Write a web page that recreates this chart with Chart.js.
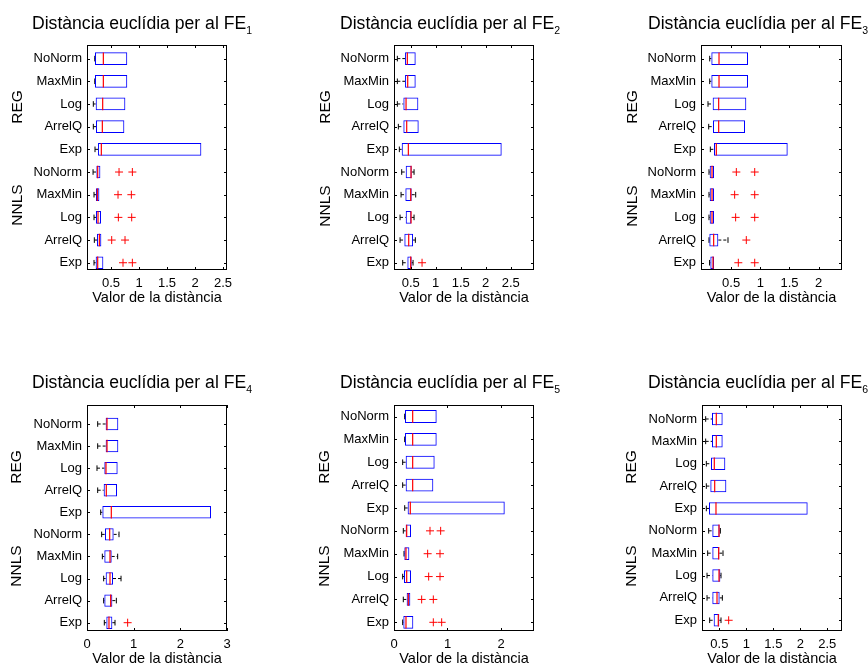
<!DOCTYPE html>
<html>
<head>
<meta charset="utf-8">
<script src="https://cdn.jsdelivr.net/npm/chart.js@4.4.0/dist/chart.umd.min.js"></script>
<style>
  body { margin: 0; width: 868px; height: 667px; overflow: hidden; position: relative; background: #fff;
         font-family: "Liberation Sans", Arial, sans-serif; color: #000; }
  canvas { position: absolute; }
  .ttl { position: absolute; font-size: 17.6px; line-height: 17px; white-space: nowrap; }
  .ttl span { font-size: 10.5px; line-height: 1; vertical-align: -5px; }
  .grp { position: absolute; font-size: 15.5px; line-height: 1; white-space: nowrap;
         transform: translate(-50%, -50%) rotate(-90deg); }
</style>
</head>
<body>
<script>
// categories (top to bottom) and the two groups
const NAMES = ["NoNorm", "MaxMin", "Log", "ArrelQ", "Exp", "NoNorm", "MaxMin", "Log", "ArrelQ", "Exp"];
const GROUPS = ["REG", "NNLS"];
const TITLES = ["1", "2", "3", "4", "5", "6"];
const X_LABEL = "Valor de la distància";

// x tick labels of each panel FE1..FE6
const X_TICKS = [
  [0.5, 1, 1.5, 2, 2.5],
  [0.5, 1, 1.5, 2, 2.5],
  [0.5, 1, 1.5, 2],
  [0, 1, 2, 3],
  [0, 1, 2],
  [0.5, 1, 1.5, 2, 2.5],
];

// box statistics, one row per panel (FE1..FE6), one value per category
const LO = [
  [0.21, 0.21, 0.184, 0.184, 0.214, 0.179, 0.196, 0.196, 0.202, 0.196],
  [0.233, 0.233, 0.233, 0.253, 0.273, 0.32, 0.307, 0.287, 0.287, 0.34],
  [0.132, 0.132, 0.103, 0.115, 0.143, 0.12, 0.12, 0.12, 0.12, 0.13],
  [0.229, 0.229, 0.214, 0.229, 0.293, 0.314, 0.329, 0.357, 0.357, 0.371],
  [0.2, 0.2, 0.162, 0.162, 0.2, 0.174, 0.187, 0.162, 0.174, 0.162],
  [0.247, 0.247, 0.259, 0.259, 0.259, 0.302, 0.284, 0.272, 0.272, 0.321],
];
const Q1 = [
  [0.214, 0.214, 0.226, 0.232, 0.268, 0.238, 0.232, 0.232, 0.25, 0.226],
  [0.387, 0.387, 0.353, 0.353, 0.32, 0.4, 0.393, 0.4, 0.373, 0.433],
  [0.16, 0.16, 0.183, 0.189, 0.206, 0.132, 0.132, 0.132, 0.126, 0.143],
  [0.4, 0.4, 0.371, 0.357, 0.329, 0.386, 0.371, 0.4, 0.371, 0.414],
  [0.206, 0.206, 0.218, 0.218, 0.255, 0.218, 0.193, 0.187, 0.237, 0.174],
  [0.364, 0.364, 0.346, 0.333, 0.309, 0.37, 0.37, 0.37, 0.37, 0.395],
];
const MED = [
  [0.363, 0.363, 0.351, 0.345, 0.327, 0.262, 0.256, 0.268, 0.292, 0.262],
  [0.433, 0.44, 0.407, 0.42, 0.453, 0.507, 0.5, 0.507, 0.46, 0.5],
  [0.292, 0.292, 0.286, 0.286, 0.246, 0.172, 0.172, 0.172, 0.2, 0.189],
  [0.429, 0.429, 0.407, 0.414, 0.521, 0.486, 0.493, 0.493, 0.507, 0.471],
  [0.349, 0.349, 0.349, 0.349, 0.305, 0.237, 0.224, 0.237, 0.268, 0.224],
  [0.444, 0.444, 0.407, 0.414, 0.438, 0.494, 0.488, 0.494, 0.457, 0.481],
];
const Q3 = [
  [0.79, 0.79, 0.756, 0.738, 2.113, 0.31, 0.292, 0.321, 0.327, 0.363],
  [0.6, 0.6, 0.653, 0.66, 2.32, 0.52, 0.52, 0.513, 0.547, 0.52],
  [0.789, 0.789, 0.76, 0.738, 1.47, 0.206, 0.206, 0.206, 0.28, 0.206],
  [0.671, 0.671, 0.657, 0.643, 2.657, 0.571, 0.529, 0.557, 0.543, 0.543],
  [0.798, 0.798, 0.76, 0.735, 2.07, 0.318, 0.287, 0.318, 0.305, 0.361],
  [0.562, 0.562, 0.611, 0.63, 2.136, 0.506, 0.5, 0.519, 0.506, 0.5],
];
const HI = [
  [0.79, 0.79, 0.756, 0.738, 2.113, 0.31, 0.292, 0.321, 0.327, 0.363],
  [0.6, 0.6, 0.653, 0.66, 2.32, 0.567, 0.6, 0.567, 0.593, 0.547],
  [0.789, 0.789, 0.76, 0.738, 1.47, 0.206, 0.206, 0.206, 0.446, 0.206],
  [0.671, 0.671, 0.657, 0.643, 2.657, 0.686, 0.657, 0.729, 0.629, 0.6],
  [0.798, 0.798, 0.76, 0.735, 2.07, 0.318, 0.287, 0.318, 0.305, 0.361],
  [0.562, 0.562, 0.611, 0.63, 2.136, 0.519, 0.568, 0.531, 0.556, 0.531],
];
const OUTLIERS = [
  [[], [], [], [], [], [0.643, 0.881], [0.625, 0.863], [0.631, 0.869], [0.512, 0.75], [0.714, 0.881]],
  [[], [], [], [], [], [], [], [], [], [0.727]],
  [[], [], [], [], [], [0.589, 0.904], [0.56, 0.904], [0.577, 0.904], [0.76], [0.623, 0.904]],
  [[], [], [], [], [], [], [], [], [], [0.871]],
  [[], [], [], [], [], [0.673, 0.872], [0.629, 0.86], [0.648, 0.86], [0.517, 0.735], [0.735, 0.891]],
  [[], [], [], [], [], [], [], [], [], [0.673]],
];

// where each panel sits on the page + its axis limits
const PAD_TOP = 15;
const PANELS = [
  { left: 0,   top: 30,  w: 239, h: 280, xMin: 0.071,  xMax: 2.571, yMin: 0.4,   yMax: 10.32 },
  { left: 307, top: 30,  w: 239, h: 280, xMin: 0.166,  xMax: 2.966, yMin: 0.4,   yMax: 10.32 },
  { left: 614, top: 30,  w: 240, h: 280, xMin: -0.017, xMax: 2.401, yMin: 0.4,   yMax: 10.32 },
  { left: 0,   top: 390, w: 239, h: 281, xMin: 0,      xMax: 3,     yMin: 0.14,  yMax: 10.376 },
  { left: 307, top: 390, w: 239, h: 281, xMin: 0,      xMax: 2.617, yMin: 0.497, yMax: 10.38 },
  { left: 615, top: 390, w: 239, h: 281, xMin: 0.179,  xMax: 2.772, yMin: 0.374, yMax: 10.48 },
];
const TITLE_POS = [[32, 15], [340, 15], [648, 15], [32, 374], [340, 374], [648, 374]];
const GROUP_POS = [[17, 107, 205], [325, 107, 206], [632, 107, 206], [16, 467, 566], [324, 467, 566], [631, 467, 566]];

Chart.defaults.font.family = '"Liberation Sans", Arial, sans-serif';
Chart.defaults.color = "#000";

// black frame + inward ticks like the original figure
const framePlugin = {
  id: "frame",
  afterDraw(chart) {
    const { ctx, chartArea: a, scales } = chart;
    ctx.save();
    ctx.strokeStyle = "#000";
    ctx.lineWidth = 1;
    ctx.strokeRect(a.left + 0.5, a.top + 0.5, a.right - a.left - 1, a.bottom - a.top - 1);
    ctx.beginPath();
    scales.y.ticks.forEach((t) => {
      const py = Math.round(scales.y.getPixelForValue(t.value)) + 0.5;
      ctx.moveTo(a.left, py); ctx.lineTo(a.left + 3, py);
      ctx.moveTo(a.right - 3, py); ctx.lineTo(a.right, py);
    });
    scales.x.ticks.forEach((t) => {
      const px = Math.round(scales.x.getPixelForValue(t.value)) + 0.5;
      ctx.moveTo(px, a.bottom); ctx.lineTo(px, a.bottom - 3);
      ctx.moveTo(px, a.top); ctx.lineTo(px, a.top + 3);
    });
    ctx.stroke();
    ctx.restore();
  },
};

function addText(cls, html, left, top) {
  const d = document.createElement("div");
  d.className = cls;
  d.innerHTML = html;
  d.style.left = left + "px";
  d.style.top = top + "px";
  document.body.appendChild(d);
}

function buildPanel(p, k) {
  const canvas = document.createElement("canvas");
  canvas.width = p.w;
  canvas.height = p.h;
  canvas.style.left = p.left + "px";
  canvas.style.top = p.top + "px";
  document.body.appendChild(canvas);

  const rows = NAMES.map((_, i) => i + 1);
  const boxes = rows.map((y, i) => ({ x: [Q1[k][i], Q3[k][i]], y }));
  const medians = rows.map((y, i) => ({ x: MED[k][i], y }));
  // whisker end caps (hidden under the box edge when the whisker has no length)
  const caps = rows.flatMap((y, i) => [
    ...(LO[k][i] < Q1[k][i] ? [{ x: LO[k][i], y }] : []),
    ...(HI[k][i] > Q3[k][i] ? [{ x: HI[k][i], y }] : []),
  ]);
  const whiskers = rows.flatMap((y, i) => [
    { x: LO[k][i], y }, { x: Q1[k][i], y }, { x: null, y: null },
    { x: Q3[k][i], y }, { x: HI[k][i], y }, { x: null, y: null },
  ]);
  const outs = rows.flatMap((y, i) => OUTLIERS[k][i].map((x) => ({ x, y })));

  new Chart(canvas, {
    type: "scatter",
    data: {
      datasets: [
        { data: medians, pointStyle: "line", rotation: 90, pointRadius: 6.2, borderColor: "#ff0000", borderWidth: 1.2 },
        {
          type: "bar", indexAxis: "y", data: boxes, xAxisID: "x", yAxisID: "y",
          borderColor: "#0000ff", backgroundColor: "rgba(0,0,0,0)", borderWidth: 1,
          borderSkipped: false, inflateAmount: 0, barPercentage: 0.56, categoryPercentage: 1,
        },
        { data: outs, pointStyle: "cross", pointRadius: 4, borderColor: "#ff0000", borderWidth: 1 },
        { data: caps, pointStyle: "line", rotation: 90, pointRadius: 2.8, borderColor: "#000", borderWidth: 1 },
        {
          data: whiskers, showLine: true, spanGaps: false, pointRadius: 0,
          borderColor: "#000", borderWidth: 1, borderDash: [3, 2],
        },
      ],
    },
    options: {
      responsive: false,
      animation: false,
      events: [],
      layout: { padding: { left: 0, top: PAD_TOP, right: 12, bottom: 0 } },
      plugins: { legend: { display: false }, tooltip: { enabled: false } },
      scales: {
        x: {
          type: "linear", min: p.xMin, max: p.xMax, offset: false,
          grid: { display: false, drawTicks: false }, border: { display: false },
          afterBuildTicks: (s) => { s.ticks = X_TICKS[k].map((v) => ({ value: v })); },
          afterFit: (s) => { s.height = 40; },
          ticks: { padding: 6, maxRotation: 0, autoSkip: false, font: { size: 13 }, callback: (v) => String(v) },
          title: { display: true, text: X_LABEL, font: { size: 14.5 }, padding: { top: 0, bottom: 3 } },
        },
        y: {
          type: "linear", reverse: true, min: p.yMin, max: p.yMax, offset: false,
          grid: { display: false, drawTicks: false }, border: { display: false },
          afterBuildTicks: (s) => { s.ticks = rows.map((v) => ({ value: v })); },
          afterFit: (s) => { s.width = 87; },
          ticks: { padding: 5, autoSkip: false, font: { size: 13 }, callback: (v) => NAMES[Math.round(v) - 1] },
        },
      },
    },
    plugins: [framePlugin],
  });

  addText("ttl", "Distància euclídia per al FE<span>" + TITLES[k] + "</span>", TITLE_POS[k][0], TITLE_POS[k][1]);
  addText("grp", GROUPS[0], GROUP_POS[k][0], GROUP_POS[k][1]);
  addText("grp", GROUPS[1], GROUP_POS[k][0], GROUP_POS[k][2]);
}

PANELS.forEach(buildPanel);
</script>
</body>
</html>
